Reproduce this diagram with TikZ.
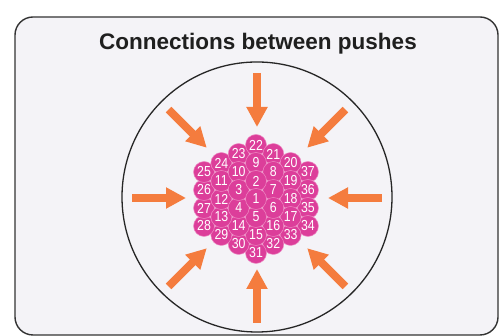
\documentclass[tikz,border=0pt]{standalone}
\usepackage{fontspec}
\setmainfont{Liberation Sans}
\usetikzlibrary{arrows.meta}
\definecolor{bgc}{HTML}{F4F3F7}
\definecolor{pinkc}{HTML}{DC3E9A}
\definecolor{pinkl}{HTML}{EE8CC4}
\definecolor{orangec}{HTML}{F47C3E}
\definecolor{framec}{HTML}{333333}
\tikzset{
  pusharrow/.style={orangec, line width=8pt, -{Triangle[length=20pt,width=20pt]}},
  disc/.style={fill=pinkc, draw=pinkl, line width=0.5pt},
  numlabel/.style={text=white, inner sep=0pt, xscale=0.85, font=\fontsize{14.5}{15}\selectfont},
  titlelabel/.style={text=black!88, font=\bfseries\fontsize{22.5}{26}\selectfont}
}
\begin{document}
\begin{tikzpicture}[x=1pt,y=1pt]
\useasboundingbox (0,0) rectangle (501,336);
\fill[white] (0,0) rectangle (501,336);
\draw[framec, line width=1.4pt, fill=bgc, rounded corners=18pt] (15,1) rectangle (498,319);
\node[titlelabel] (title) at (258,292) {Connections between pushes};
\draw[line width=1.3pt, black!85] (257,139) circle[radius=135];
\coordinate (C) at (257,138);
\foreach \ang in {0,45,...,315} {
  \path (C) ++(\ang:125) coordinate (tail\ang);
  \path (C) ++(\ang:71) coordinate (tip\ang);
  \draw[pusharrow] (tail\ang) -- (tip\ang);
}
\def\hexlist{37/30/3/90/0,36/330/1/30/2,35/330/2/30/1,34/330/3/90/0,33/270/1/330/2,32/270/2/330/1,31/270/3/90/0,30/210/1/270/2,29/210/2/270/1,28/210/3/90/0,27/150/1/210/2,26/150/2/210/1,25/150/3/90/0,24/90/1/150/2,23/90/2/150/1,22/90/3/90/0,21/30/1/90/2,20/30/2/90/1,19/30/2/90/0,18/330/1/30/1,17/330/2/90/0,16/270/1/330/1,15/270/2/90/0,14/210/1/270/1,13/210/2/90/0,12/150/1/210/1,11/150/2/90/0,10/90/1/150/1,9/90/2/90/0,8/30/1/90/1,7/30/1/90/0,6/330/1/90/0,5/270/1/90/0,4/210/1/90/0,3/150/1/90/0,2/90/1/90/0,1/90/0/90/0}
\foreach \n/\a/\p/\b/\q in \hexlist {
  \pgfmathsetmacro\px{256+20*(\p*cos(\a)+\q*cos(\b))}
  \pgfmathsetmacro\py{137+18*(\p*sin(\a)+\q*sin(\b))}
  \path[disc] (\px,\py) circle[radius=10.5];
}
\foreach \n/\a/\p/\b/\q in \hexlist {
  \pgfmathsetmacro\px{256+20*(\p*cos(\a)+\q*cos(\b))}
  \pgfmathsetmacro\py{137+18*(\p*sin(\a)+\q*sin(\b))}
  \node[numlabel] (n\n) at (\px,\py) {\n};
}
\end{tikzpicture}
\end{document}
